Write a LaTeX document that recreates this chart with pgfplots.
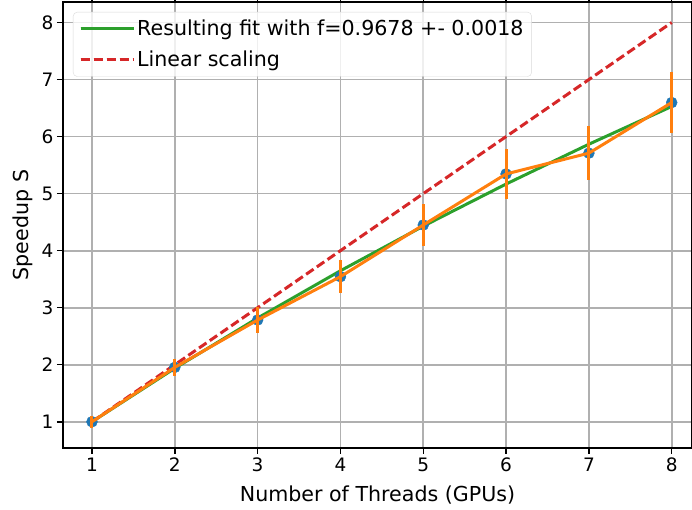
\documentclass[border=0pt]{standalone}
\usepackage{pgfplots}
\pgfplotsset{compat=1.18}
\usepackage{fontspec}
\setmainfont{DejaVu Sans}
\definecolor{cA}{HTML}{1F77B4}
\definecolor{cB}{HTML}{FF7F0E}
\definecolor{cC}{HTML}{2CA02C}
\definecolor{cD}{HTML}{D62728}
\definecolor{gridc}{HTML}{B0B0B0}
\begin{document}
\begin{tikzpicture}
\begin{axis}[
  scale only axis,
  width=629pt, height=446pt,
  xmin=0.65, xmax=8.245,
  ymin=0.54, ymax=8.36,
  xtick={1,2,3,4,5,6,7,8},
  ytick={1,2,3,4,5,6,7,8},
  xmajorgrids, ymajorgrids,
  major grid style={color=gridc, line width=1.7pt},
  tick align=outside,
  major tick length=6pt,
  tick style={black, line width=1.5pt},
  axis line style={line width=1.5pt},
  clip mode=individual,
  /pgf/number format/assume math mode=true,
  ticklabel style={font=\fontsize{18.5}{22}\selectfont},
  label style={font=\fontsize{20.6}{24}\selectfont},
  xlabel={Number of Threads (GPUs)},
  ylabel={Speedup S},
  xlabel style={yshift=-7pt},
  ylabel style={yshift=2pt},
  legend cell align=left,
  legend style={at={(0,1)}, anchor=north west, xshift=10pt, yshift=-10pt,
    draw=black!15, rounded corners=4pt, fill=white, fill opacity=0.8, text opacity=1,
    font=\fontsize{20.6}{24}\selectfont, row sep=10pt, inner xsep=6pt, inner ysep=6pt},
  legend image code/.code={\draw[#1] (0pt,0pt) -- (43pt,0pt); \path (0pt,0pt) -- (53pt,0pt);},
]
\addplot[cC, line width=3pt] coordinates {
(1,1) (2,1.9376) (3,2.8185) (4,3.6477) (5,4.4295) (6,5.168) (7,5.8666) (8,6.5285)};
\addplot[cD, line width=3pt, dash pattern=on 9pt off 4pt] coordinates {(1,1) (8,8)};
\addplot[only marks, mark=*, mark size=5.5pt, color=cA, mark options={draw=cA, fill=cA}, forget plot] coordinates {
(1,1) (2,1.954) (3,2.784) (4,3.544) (5,4.45) (6,5.345) (7,5.71) (8,6.597)};
\addplot[cB, line width=3pt, mark=none, forget plot,
  error bars/.cd, y dir=both, y explicit, error mark=none,
  error bar style={line width=3pt, cB}] coordinates {
(1,1) +- (0,0.105)
(2,1.954) +- (0,0.155)
(3,2.784) +- (0,0.223)
(4,3.544) +- (0,0.285)
(5,4.45) +- (0,0.365)
(6,5.345) +- (0,0.435)
(7,5.71) +- (0,0.47)
(8,6.597) +- (0,0.54)};
\legend{Resulting fit with f=0.9678 +- 0.0018, Linear scaling}
\end{axis}
\pgfresetboundingbox
\path[use as bounding box] (current axis.south west) ++(-63pt,-62pt) rectangle ++(692pt,510pt);
\end{tikzpicture}
\end{document}
